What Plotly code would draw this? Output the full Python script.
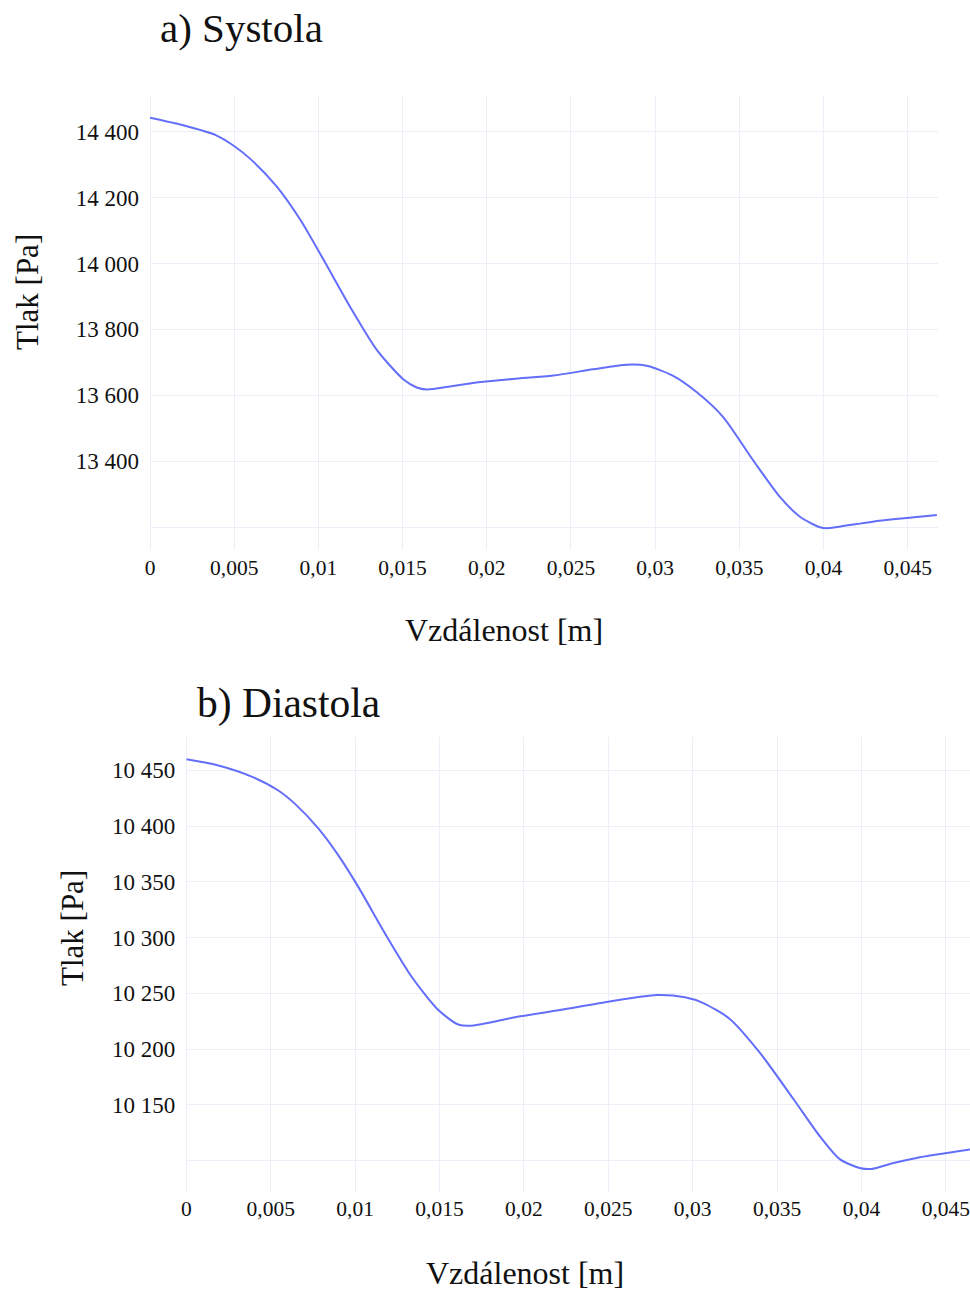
import plotly.graph_objects as go
from plotly.subplots import make_subplots

# Pressure along the vessel, systole
sys_x = [0, 0.00198, 0.00396, 0.00495, 0.00594, 0.00752, 0.00891, 0.0103, 0.01188,
         0.01347, 0.01504, 0.01584, 0.01643, 0.01781, 0.0190, 0.0198, 0.02157, 0.02395,
         0.02632, 0.02831, 0.0295, 0.03107, 0.03246, 0.03403, 0.03581, 0.03741, 0.0386,
         0.03979, 0.0402, 0.04293, 0.04673]
sys_p = [14442, 14419, 14388, 14358, 14318, 14234, 14134, 14012, 13869,
         13738, 13649, 13624, 13618, 13627, 13636, 13641, 13650, 13660,
         13679, 13693, 13690, 13659, 13610, 13535, 13404, 13292, 13232,
         13200, 13197, 13217, 13237]

# Pressure along the vessel, diastole
dia_x = [0, 0.0019, 0.00387, 0.00545, 0.00644, 0.00782, 0.0090, 0.01019, 0.01177,
         0.01335, 0.01493, 0.01611, 0.01691, 0.01947, 0.02214, 0.0250, 0.02787,
         0.02954, 0.0306, 0.0322, 0.0340, 0.0360, 0.03754, 0.03873, 0.0399, 0.0406,
         0.0419, 0.04327, 0.04643]
dia_p = [10460, 10454.5, 10444.5, 10432, 10420, 10398, 10374, 10345.5, 10303.8,
         10264.9, 10235, 10222, 10221, 10228.5, 10235, 10242.5, 10248.5,
         10246.5, 10241.5, 10227, 10196.3, 10154.5, 10121.6, 10101, 10093.3, 10092.4,
         10097.8, 10102.3, 10109.8]

x_tickvals = [0, 0.005, 0.01, 0.015, 0.02, 0.025, 0.03, 0.035, 0.04, 0.045]
x_ticktext = ["0", "0,005", "0,01", "0,015", "0,02", "0,025", "0,03", "0,035", "0,04", "0,045"]

sys_tickvals = [13200, 13400, 13600, 13800, 14000, 14200, 14400]
sys_ticktext = ["", "13 400", "13 600", "13 800", "14 000", "14 200", "14 400"]

dia_tickvals = [10100, 10150, 10200, 10250, 10300, 10350, 10400, 10450]
dia_ticktext = ["", "10 150", "10 200", "10 250", "10 300", "10 350", "10 400", "10 450"]

W, H = 970, 1291
FONT = "Liberation Serif, Times New Roman, serif"
LINE = "#636efa"
GRID = "#EBF0F8"

fig = make_subplots(rows=2, cols=1)

line_style = dict(color=LINE, width=2, shape="spline", smoothing=0.7)
fig.add_trace(go.Scatter(x=sys_x, y=sys_p, mode="lines", line=line_style,
                         showlegend=False), row=1, col=1)
fig.add_trace(go.Scatter(x=dia_x, y=dia_p, mode="lines", line=line_style,
                         showlegend=False), row=2, col=1)

ytickfont = dict(family=FONT, size=23, color="#111")
xtickfont = dict(family=FONT, size=21.5, color="#111")
common_x = dict(tickvals=x_tickvals, ticktext=x_ticktext, tickfont=xtickfont, showgrid=True,
                gridcolor=GRID, zeroline=True, zerolinecolor=GRID, zerolinewidth=1,
                showline=False, ticks="", ticklabelstandoff=2, automargin=False,
                ticklabeloverflow="allow")
common_y = dict(tickfont=ytickfont, showgrid=True, gridcolor=GRID, zeroline=False,
                showline=False, ticks="", ticklabelstandoff=10, automargin=False)

fig.update_layout(
    xaxis=dict(domain=[150 / W, 938 / W], range=[0, 0.0468], **common_x),
    yaxis=dict(domain=[1 - 550 / H, 1 - 95 / H], range=[13131, 14511],
               tickvals=sys_tickvals, ticktext=sys_ticktext, **common_y),
    xaxis2=dict(domain=[186.3 / W, 1.0], range=[0, 0.04643], **common_x),
    yaxis2=dict(domain=[1 - 1191.7 / H, 1 - 737 / H], range=[10072, 10480],
                tickvals=dia_tickvals, ticktext=dia_ticktext, **common_y),
)

def px_annot(text, x, y, size, xanchor="center", yanchor="middle", angle=0):
    fig.add_annotation(text=text, x=x / W, y=1 - y / H, xref="paper", yref="paper",
                       xanchor=xanchor, yanchor=yanchor, showarrow=False, textangle=angle,
                       font=dict(family=FONT, size=size, color="#111"))

px_annot("a) Systola", 158, 28, 41, xanchor="left")
px_annot("b) Diastola", 195, 703, 41.5, xanchor="left")
px_annot("Tlak [Pa]", 28, 292, 31, angle=-90)
px_annot("Tlak [Pa]", 72, 928, 31, angle=-90)
px_annot("Vzdálenost [m]", 504, 630, 32)
px_annot("Vzdálenost [m]", 525, 1273, 32)

fig.update_layout(
    template="plotly_white",
    width=W, height=H,
    margin=dict(l=0, r=0, t=0, b=0),
    paper_bgcolor="white", plot_bgcolor="white",
    font=dict(family=FONT),
)

fig.write_html("out.html")
